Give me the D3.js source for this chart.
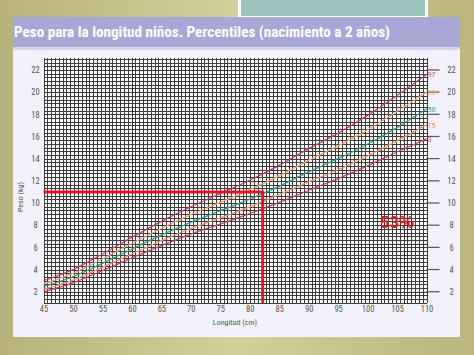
<!DOCTYPE html>
<html><head><meta charset="utf-8">
<script src="https://cdn.jsdelivr.net/npm/d3@7"></script>
<style>body{margin:0;background:#c8c48e;overflow:hidden}</style>
</head><body>
<svg id="c" width="474" height="355"></svg>
<script>
const lengths = [45,50,55,60,65,70,75,80,85,90,95,100,105,110];
const p97 = [3.0,4.0,5.4,6.9,8.35,9.65,10.85,12.05,13.4,14.9,16.3,17.9,19.7,21.6];
const p85 = [2.7,3.65,4.95,6.35,7.7,8.95,10.05,11.2,12.45,13.85,15.15,16.6,18.25,20.0];
const p50 = [2.45,3.35,4.55,5.85,7.1,8.25,9.3,10.35,11.5,12.8,14.0,15.3,16.8,18.5];
const p15 = [2.2,3.05,4.2,5.4,6.6,7.7,8.65,9.65,10.75,11.9,13.0,14.25,15.6,17.05];
const p3  = [2.0,2.8,3.9,5.05,6.15,7.2,8.1,9.05,10.05,11.15,12.2,13.35,14.6,15.8];
const seriesNames = ["97","85","50","15","3"];
const xTicks = [45,50,55,60,65,70,75,80,85,90,95,100,105,110];
const yTicks = [2,4,6,8,10,12,14,16,18,20,22];
const markLength = 82.2, markWeight = 11.0;
const title = "Peso para la longitud niños. Percentiles (nacimiento a 2 años)";
const annotation = "53%";

const svg = d3.select("#c");
const defs = svg.append("defs");
const g1 = defs.append("linearGradient").attr("id","bg").attr("x1",0).attr("x2",1);
g1.append("stop").attr("offset","0").attr("stop-color","#b7b27a");
g1.append("stop").attr("offset","0.5").attr("stop-color","#d3d09c");
g1.append("stop").attr("offset","1").attr("stop-color","#bab57e");
svg.append("rect").attr("width",474).attr("height",355).attr("fill","url(#bg)");
svg.append("rect").attr("x",238).attr("y",-2).attr("width",190).attr("height",19).attr("fill","#ffffff");
svg.append("rect").attr("x",241).attr("y",0).attr("width",184).attr("height",16).attr("fill","#9cc3be");
svg.append("rect").attr("x",13).attr("y",17).attr("width",447).attr("height",320).attr("fill","#f3f2fa");
svg.append("rect").attr("x",13).attr("y",17).attr("width",447).attr("height",30).attr("fill","#a8a7d5");
svg.append("rect").attr("x",13).attr("y",47).attr("width",447).attr("height",3).attr("fill","#d4d3ee");
svg.append("text").attr("x",14).attr("y",37).attr("fill","#fff")
  .attr("font-family","'Liberation Sans Narrow','Roboto Condensed','Arial Narrow',Roboto,sans-serif")
  .attr("font-weight","bold").attr("font-size",15.5)
  .attr("textLength",376).attr("lengthAdjust","spacingAndGlyphs").text(title);

const x = d3.scaleLinear().domain([45,110]).range([43.5,426.5]);
const y = d3.scaleLinear().domain([1,23.05]).range([302.8,58.3]);

const plot = svg.append("g");
plot.append("rect").attr("x",x(45)).attr("y",y(23.05)).attr("width",x(110)-x(45)).attr("height",y(1)-y(23.05)).attr("fill","#ffffff");
const vg = d3.range(0,101).map(i=>45+i*0.65);
const hg = d3.range(0,67).map(i=>1+i/3);
plot.selectAll("line.v").data(vg).join("line").attr("class","v")
  .attr("x1",d=>Math.round(x(d))+0.5).attr("x2",d=>Math.round(x(d))+0.5).attr("y1",y(23.05)).attr("y2",y(1))
  .attr("stroke","#3c3c3c").attr("stroke-width",1).attr("shape-rendering","crispEdges");
plot.selectAll("line.h").data(hg).join("line").attr("class","h")
  .attr("x1",x(45)).attr("x2",x(110)).attr("y1",d=>Math.round(y(d))+0.5).attr("y2",d=>Math.round(y(d))+0.5)
  .attr("stroke","#3c3c3c").attr("stroke-width",1).attr("shape-rendering","crispEdges");

plot.selectAll("line.rt").data(yTicks).join("line").attr("class","rt")
  .attr("x1",x(110)).attr("x2",x(110)+13).attr("y1",d=>y(d)).attr("y2",d=>y(d))
  .attr("stroke","#555").attr("stroke-width",1.2);

const lf = "'Liberation Sans Narrow','Roboto Condensed',Roboto,sans-serif";
const la = d3.axisLeft(y).tickValues(yTicks).tickSize(0).tickPadding(0);
const gl = svg.append("g").attr("transform",`translate(${x(45)-4},0)`).call(la);
const ra = d3.axisRight(y).tickValues(yTicks).tickSize(0).tickPadding(0);
const gr = svg.append("g").attr("transform",`translate(${x(110)+21},0)`).call(ra);
const ba = d3.axisBottom(x).tickValues(xTicks).tickSize(0).tickPadding(0);
const gb = svg.append("g").attr("transform",`translate(0,${y(1)+3})`).call(ba);
[gl,gr,gb].forEach(g=>{g.select(".domain").remove();
  g.selectAll("text").attr("font-family",lf).attr("font-size",8.5).attr("fill","#555");});
gl.selectAll("text").attr("text-anchor","middle").attr("dx",-4);
gr.selectAll("text").attr("text-anchor","middle").attr("dx",4);

svg.append("text").attr("x",235).attr("y",325).attr("text-anchor","middle")
  .attr("font-family",lf).attr("font-size",8).attr("fill","#555").text("Longitud (cm)");
svg.append("text").attr("transform","translate(23,197) rotate(-90)").attr("text-anchor","middle")
  .attr("font-family",lf).attr("font-size",8).attr("fill","#555").text("Peso (kg)");

const series = [p97,p85,p50,p15,p3];
const colors = ["#c73a63","#eea46e","#2f9a7c","#ec9466","#c83c5e"];
const labelColors = ["#d8456a","#eeaa66","#35a585","#f08a55","#e86060"];
const line = d3.line().x((d,i)=>x(lengths[i])).y(d=>y(d)).curve(d3.curveMonotoneX);
series.forEach((s,k)=>{
  plot.append("path").attr("d",line(s)).attr("fill","none")
    .attr("stroke",colors[k]).attr("stroke-width",1.3);
  svg.append("text").attr("x",x(110)+1).attr("y",y(s[s.length-1])+3)
    .attr("font-family",lf).attr("font-size",8).attr("fill",labelColors[k]).text(seriesNames[k]);
});

const red = "#e5141b";
svg.append("line").attr("x1",x(45)).attr("x2",x(markLength)+1.5).attr("y1",y(markWeight)).attr("y2",y(markWeight))
  .attr("stroke",red).attr("stroke-width",3);
svg.append("line").attr("x1",x(markLength)).attr("x2",x(markLength)).attr("y1",y(markWeight)).attr("y2",y(1))
  .attr("stroke",red).attr("stroke-width",3);
svg.append("text").attr("x",397).attr("y",228).attr("text-anchor","middle")
  .attr("font-family","'Liberation Sans',Arial,sans-serif").attr("font-weight","bold").attr("font-size",17)
  .attr("fill","#d81b22").text(annotation);
</script>
</body></html>
